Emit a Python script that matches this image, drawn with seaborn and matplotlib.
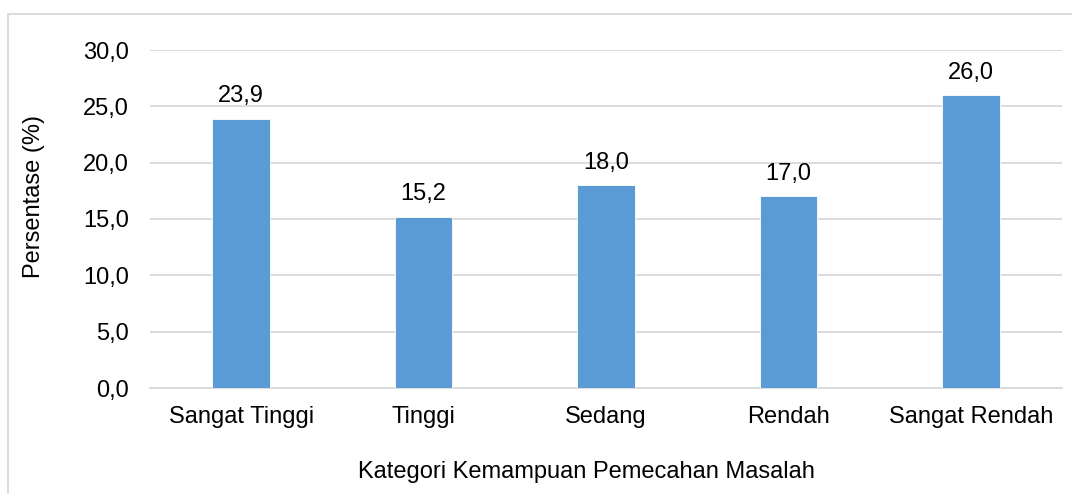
import pandas as pd
import matplotlib.pyplot as plt
import seaborn as sns
from matplotlib.patches import Rectangle

# Data
kategori = ["Sangat Tinggi", "Tinggi", "Sedang", "Rendah", "Sangat Rendah"]
persentase = [23.9, 15.2, 18.0, 17.0, 26.0]
yticks = [0, 5, 10, 15, 20, 25, 30]

df = pd.DataFrame({"kategori": kategori, "persentase": persentase})

sns.set_theme(style="white")
plt.rcParams['font.family'] = ['Liberation Sans', 'DejaVu Sans']
plt.rcParams['text.color'] = 'black'

fs = 17

fig = plt.figure(figsize=(10.72, 4.94), dpi=100)
ax = fig.add_axes([150 / 1072, 106 / 494, 912 / 1072, 338 / 494])

sns.barplot(data=df, x="kategori", y="persentase", color="#5B9BD5",
            width=0.315, saturation=1, edgecolor="white", linewidth=0.6, ax=ax, zorder=3)

for i, v in enumerate(persentase):
    ax.text(i, v + 1.0, f"{v:.1f}".replace(".", ","), ha="center", va="bottom",
            fontsize=fs, color="black")

ax.set_xlim(-0.5, 4.5)
ax.set_ylim(0, 30)
ax.set_yticks(yticks)
ax.set_yticklabels([f"{t:.1f}".replace(".", ",") for t in yticks])
ax.yaxis.grid(True, color="#D9D9D9", linewidth=1.3, zorder=0)
ax.set_axisbelow(True)
for s in ["top", "right", "left"]:
    ax.spines[s].set_visible(False)
ax.spines["bottom"].set_color("#D9D9D9")
ax.spines["bottom"].set_linewidth(1.3)
ax.tick_params(axis="both", length=0, labelsize=fs, colors="black")
ax.tick_params(axis="y", pad=15)
ax.tick_params(axis="x", pad=13)

ax.set_xlabel("Kategori Kemampuan Pemecahan Masalah", fontsize=fs, color="black")
ax.set_ylabel("Persentase (%)", fontsize=fs, color="black")
ax.xaxis.set_label_coords(0.479, -0.217)
ax.yaxis.set_label_coords(-0.115, 0.568)

# Outer chart border
fig.patches.append(Rectangle((8 / 1072, -0.2), 1.2, 1.2 - 14 / 494,
                             transform=fig.transFigure, fill=False,
                             edgecolor="#D9D9D9", linewidth=1.3))

plt.savefig("out.png", dpi=100)
plt.close()
